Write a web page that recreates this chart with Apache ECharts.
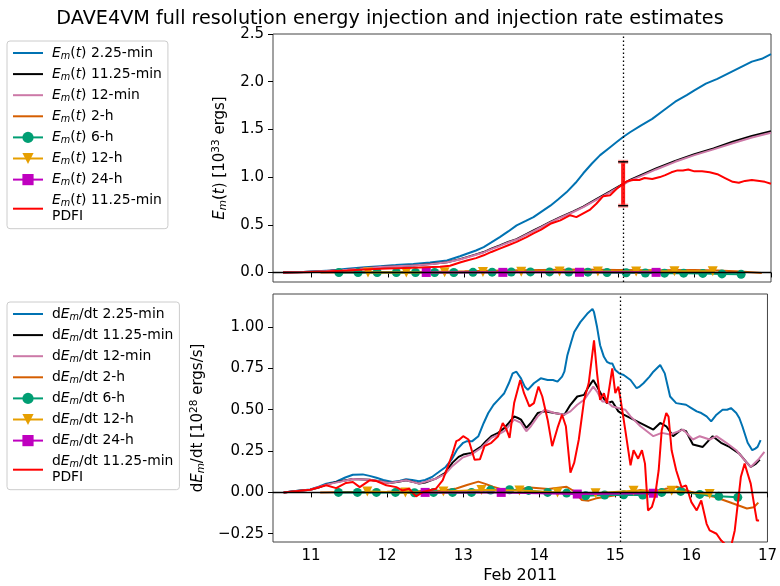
<!DOCTYPE html>
<html><head><meta charset="utf-8">
<script src="https://cdn.jsdelivr.net/npm/echarts@6/dist/echarts.min.js"></script>
<style>html,body{margin:0;padding:0;background:#fff}#c{width:780px;height:586px}</style>
</head><body><div id="c"></div>
<script>
// ---------- axes / labels ----------
const dayTicks = [11, 12, 13, 14, 15, 16, 17];
const topYTicks = [0, 0.5, 1.0, 1.5, 2.0, 2.5];
const botYTicks = [-0.25, 0, 0.25, 0.5, 0.75, 1.0];
const resLabels = ['2.25-min', '11.25-min', '12-min', '2-h', '6-h', '12-h', '24-h', '11.25-min PDFI'];
const flareDay = 15.07;
const errBar = [15.07, 0.93, 0.70, 1.16]; // x, center, low, high

// ---------- E_m(t) [1e33 ergs] ----------
const E_225 = [[10.63,0],[10.9,0.006],[11.25,0.02],[11.47,0.04],[11.7,0.055],[11.9,0.066],[12.1,0.077],[12.33,0.09],[12.55,0.105],[12.77,0.126],[12.94,0.17],[13.03,0.196],[13.15,0.23],[13.25,0.266],[13.35,0.315],[13.46,0.371],[13.57,0.43],[13.68,0.494],[13.8,0.54],[13.9,0.58],[14.0,0.635],[14.12,0.70],[14.22,0.765],[14.33,0.84],[14.45,0.94],[14.55,1.04],[14.66,1.14],[14.77,1.23],[14.88,1.30],[14.99,1.37],[15.07,1.42],[15.16,1.47],[15.3,1.54],[15.45,1.61],[15.6,1.70],[15.75,1.79],[15.9,1.86],[16.0,1.91],[16.15,1.98],[16.3,2.03],[16.45,2.09],[16.6,2.15],[16.75,2.21],[16.88,2.24],[17.0,2.29]];
const E_1125 = [[10.63,0],[10.9,0.004],[11.2,0.015],[11.47,0.028],[11.7,0.043],[11.9,0.056],[12.1,0.064],[12.33,0.073],[12.55,0.088],[12.77,0.108],[12.94,0.14],[13.03,0.161],[13.15,0.19],[13.25,0.214],[13.35,0.25],[13.46,0.284],[13.57,0.32],[13.68,0.35],[13.8,0.40],[13.9,0.44],[14.0,0.48],[14.12,0.53],[14.25,0.58],[14.42,0.64],[14.55,0.69],[14.72,0.77],[14.9,0.85],[15.07,0.93],[15.16,0.97],[15.3,1.02],[15.5,1.09],[15.75,1.17],[16.0,1.24],[16.25,1.30],[16.5,1.37],[16.75,1.43],[17.0,1.48]];
const E_12 = [[10.63,0],[10.9,0.004],[11.2,0.015],[11.47,0.028],[11.7,0.043],[11.9,0.056],[12.1,0.064],[12.33,0.073],[12.55,0.087],[12.77,0.106],[12.94,0.136],[13.03,0.157],[13.15,0.186],[13.25,0.21],[13.35,0.245],[13.46,0.278],[13.57,0.314],[13.68,0.345],[13.8,0.394],[13.9,0.434],[14.0,0.474],[14.12,0.524],[14.25,0.574],[14.42,0.634],[14.55,0.684],[14.72,0.762],[14.9,0.842],[15.07,0.922],[15.16,0.962],[15.3,1.01],[15.5,1.08],[15.75,1.16],[16.0,1.23],[16.25,1.29],[16.5,1.355],[16.75,1.415],[17.0,1.465]];
const E_2h = [[11.12,0],[11.5,0.001],[12.0,0.003],[12.5,0.006],[13.0,0.012],[13.5,0.02],[14.0,0.026],[14.5,0.03],[15.0,0.027],[15.5,0.024],[16.0,0.025],[16.3,0.02],[16.6,0.01],[16.88,-0.005]];
const sixHourT = [11.36,11.61,11.86,12.11,12.36,12.61,12.86,13.11,13.36,13.61,13.86,14.11,14.36,14.61,14.86,15.11,15.36,15.61,15.86,16.11,16.36,16.61];
const E_6h = [0,0,0,0,0,0,0,0.001,0.003,0.005,0.006,0.006,0.005,0.003,0.0,-0.003,-0.006,-0.007,-0.007,-0.01,-0.015,-0.02];
const twelveHourT = [11.74,12.24,12.74,13.24,13.74,14.24,14.74,15.24,15.74,16.24];
const E_12h = [0,0,0.001,0.004,0.008,0.01,0.01,0.01,0.012,0.012];
const dayT = [12.5,13.5,14.5,15.5];
const E_24h = [0,0.001,0.002,0.001];
const E_pdfi = [[10.63,0],[10.9,0.003],[11.2,0.01],[11.47,0.02],[11.7,0.03],[11.9,0.038],[12.1,0.043],[12.33,0.049],[12.5,0.055],[12.68,0.061],[12.81,0.07],[12.94,0.105],[13.03,0.126],[13.15,0.15],[13.25,0.18],[13.35,0.215],[13.46,0.25],[13.57,0.285],[13.68,0.32],[13.81,0.37],[13.9,0.41],[14.0,0.45],[14.12,0.51],[14.25,0.546],[14.38,0.60],[14.46,0.58],[14.55,0.62],[14.64,0.66],[14.72,0.72],[14.81,0.80],[14.9,0.81],[14.99,0.88],[15.07,0.93],[15.13,0.96],[15.2,0.97],[15.28,0.97],[15.35,0.99],[15.45,0.98],[15.55,1.0],[15.62,1.02],[15.7,1.05],[15.78,1.07],[15.85,1.07],[15.92,1.08],[16.0,1.06],[16.1,1.06],[16.2,1.05],[16.3,1.03],[16.4,0.99],[16.5,0.95],[16.58,0.94],[16.66,0.96],[16.75,0.97],[16.85,0.96],[16.92,0.95],[17.0,0.93]];

// ---------- dE_m/dt [1e28 ergs/s] ----------
const R_225 = [[10.64,0],[10.8,0.008],[10.99,0.018],[11.1,0.035],[11.2,0.053],[11.33,0.065],[11.45,0.09],[11.55,0.107],[11.68,0.109],[11.77,0.1],[11.86,0.089],[11.95,0.075],[12.07,0.063],[12.17,0.07],[12.25,0.079],[12.33,0.075],[12.42,0.067],[12.5,0.075],[12.59,0.093],[12.67,0.12],[12.77,0.154],[12.85,0.2],[12.92,0.26],[13.0,0.30],[13.05,0.31],[13.12,0.31],[13.2,0.34],[13.27,0.42],[13.33,0.48],[13.4,0.53],[13.46,0.56],[13.54,0.60],[13.6,0.66],[13.65,0.72],[13.7,0.73],[13.76,0.69],[13.81,0.64],[13.85,0.62],[13.93,0.66],[14.02,0.69],[14.11,0.68],[14.18,0.68],[14.24,0.67],[14.3,0.70],[14.33,0.73],[14.37,0.83],[14.42,0.91],[14.46,0.97],[14.54,1.03],[14.63,1.08],[14.70,1.11],[14.72,1.09],[14.76,1.0],[14.8,0.89],[14.85,0.82],[14.89,0.79],[14.93,0.78],[14.96,0.78],[15.0,0.74],[15.05,0.72],[15.11,0.71],[15.2,0.68],[15.28,0.63],[15.32,0.64],[15.37,0.66],[15.45,0.70],[15.5,0.73],[15.59,0.77],[15.65,0.72],[15.69,0.64],[15.72,0.58],[15.8,0.54],[15.93,0.53],[16.0,0.51],[16.07,0.49],[16.13,0.48],[16.2,0.46],[16.26,0.43],[16.33,0.47],[16.41,0.50],[16.47,0.50],[16.52,0.51],[16.59,0.48],[16.63,0.45],[16.67,0.40],[16.74,0.30],[16.8,0.255],[16.84,0.265],[16.87,0.275],[16.91,0.316]];
const R_1125 = [[10.64,0],[10.8,0.008],[10.99,0.016],[11.1,0.03],[11.2,0.047],[11.35,0.065],[11.55,0.081],[11.77,0.077],[11.9,0.068],[12.03,0.057],[12.15,0.065],[12.25,0.073],[12.33,0.065],[12.42,0.053],[12.5,0.06],[12.64,0.083],[12.76,0.117],[12.86,0.18],[12.94,0.215],[13.0,0.229],[13.11,0.239],[13.24,0.279],[13.3,0.31],[13.37,0.34],[13.46,0.36],[13.54,0.39],[13.6,0.42],[13.67,0.46],[13.72,0.45],[13.76,0.44],[13.83,0.39],[13.89,0.42],[13.98,0.48],[14.07,0.49],[14.2,0.48],[14.33,0.47],[14.41,0.53],[14.5,0.58],[14.59,0.59],[14.65,0.64],[14.71,0.68],[14.76,0.64],[14.83,0.58],[14.89,0.54],[14.96,0.55],[15.04,0.49],[15.11,0.47],[15.24,0.44],[15.37,0.41],[15.5,0.38],[15.59,0.42],[15.67,0.40],[15.76,0.34],[15.87,0.38],[15.93,0.37],[16.02,0.29],[16.15,0.275],[16.28,0.34],[16.39,0.30],[16.5,0.275],[16.63,0.235],[16.72,0.184],[16.78,0.154],[16.85,0.174],[16.9,0.198]];
const R_12 = [[10.64,0],[10.99,0.016],[11.2,0.047],[11.55,0.081],[11.77,0.077],[12.03,0.057],[12.25,0.073],[12.42,0.053],[12.64,0.083],[12.76,0.11],[12.86,0.16],[12.99,0.21],[13.11,0.23],[13.24,0.27],[13.37,0.33],[13.46,0.35],[13.54,0.37],[13.67,0.44],[13.76,0.42],[13.83,0.37],[13.89,0.40],[13.98,0.46],[14.07,0.50],[14.2,0.48],[14.33,0.47],[14.41,0.49],[14.5,0.53],[14.59,0.56],[14.65,0.60],[14.71,0.64],[14.76,0.61],[14.83,0.55],[14.89,0.55],[14.96,0.52],[15.04,0.51],[15.13,0.50],[15.2,0.46],[15.33,0.40],[15.5,0.34],[15.61,0.36],[15.72,0.35],[15.89,0.38],[16.02,0.32],[16.11,0.34],[16.24,0.32],[16.33,0.34],[16.46,0.30],[16.59,0.255],[16.72,0.184],[16.78,0.154],[16.89,0.204],[16.96,0.245]];
const R_2h = [[11.12,0],[11.5,0.002],[12.0,0.004],[12.43,0.008],[12.75,0.012],[12.91,0.024],[13.05,0.045],[13.2,0.065],[13.3,0.05],[13.39,0.034],[13.5,0.02],[13.64,0.012],[13.75,0.02],[13.88,0.03],[14.0,0.025],[14.12,0.02],[14.25,0.028],[14.36,0.034],[14.45,0.01],[14.56,-0.046],[14.65,-0.05],[14.75,-0.036],[14.94,-0.022],[15.14,-0.006],[15.33,0.014],[15.52,0.004],[15.65,0.02],[15.81,0.034],[15.95,0.01],[16.06,-0.006],[16.3,-0.026],[16.54,-0.066],[16.73,-0.097],[16.82,-0.09],[16.88,-0.062]];
const R_6h = [0,0,0,0,-0.002,0,0,0,0.014,0.016,0.012,0.0,-0.004,-0.02,-0.016,-0.014,-0.016,0.0,0.006,-0.012,-0.024,-0.03];
const R_12h = [0.005,0.0,0.005,0.015,0.012,0.0,-0.005,0.01,0.01,-0.01];
const R_24h = [0.0,0.0,-0.01,-0.005];
const R_pdfi = [[10.64,0],[10.99,0.016],[11.2,0.043],[11.33,0.026],[11.46,0.057],[11.55,0.063],[11.64,0.032],[11.77,0.073],[11.86,0.069],[11.99,0.043],[12.12,0.032],[12.2,0.012],[12.29,0.022],[12.38,-0.024],[12.47,0.002],[12.64,0.022],[12.73,0.073],[12.8,0.158],[12.86,0.235],[12.91,0.31],[12.94,0.316],[13.0,0.34],[13.07,0.32],[13.15,0.198],[13.22,0.20],[13.28,0.28],[13.37,0.30],[13.46,0.34],[13.52,0.42],[13.57,0.38],[13.61,0.33],[13.67,0.54],[13.75,0.68],[13.8,0.60],[13.87,0.52],[13.93,0.54],[13.99,0.64],[14.04,0.58],[14.11,0.44],[14.17,0.28],[14.24,0.39],[14.3,0.47],[14.35,0.40],[14.41,0.12],[14.46,0.18],[14.52,0.32],[14.59,0.56],[14.65,0.66],[14.72,0.92],[14.76,0.72],[14.8,0.56],[14.85,0.60],[14.89,0.54],[14.93,0.66],[14.96,0.75],[15.0,0.60],[15.04,0.64],[15.07,0.56],[15.13,0.38],[15.2,0.164],[15.24,0.255],[15.3,0.204],[15.35,0.255],[15.39,0.174],[15.43,-0.109],[15.48,-0.089],[15.52,-0.028],[15.57,0.134],[15.61,0.376],[15.67,0.48],[15.7,0.457],[15.74,0.255],[15.8,0.134],[15.87,0.032],[15.93,0.042],[16.0,-0.059],[16.07,-0.109],[16.13,-0.049],[16.2,-0.19],[16.24,-0.23],[16.33,-0.25],[16.39,-0.29],[16.46,-0.32],[16.52,-0.33],[16.57,-0.23],[16.61,-0.069],[16.65,0.093],[16.7,0.174],[16.74,0.113],[16.78,0.053],[16.83,-0.089],[16.86,-0.17],[16.89,-0.17]];

// ---------- styling ----------
const FONT = 'DejaVu Sans';
const TICKFS = 15, LABFS = 15, LEGFS = 13.9;
const COL = ['#0072B2', '#000000', '#CC79A7', '#D55E00', '#009E73', '#E69F00', '#BF00BF', '#FF0000'];
const SYM = [null, null, null, null, 'circle', 'triangle', 'rect', null];
const SYMSIZE = [0, 0, 0, 0, 9, 10, 9, 0];
const zip = (t, v) => t.map((x, i) => [x, v[i]]);
const topNames = resLabels.map(l => 'Em(t) ' + l);
const botNames = resLabels.map(l => 'dEm/dt ' + l);

function legendFmt(name) {
  let prefix, rest;
  if (name.startsWith('dEm/dt ')) { prefix = '{n|d}{i|E}{s|m}{n|/dt '; rest = name.slice(7); }
  else { prefix = '{i|E}{s|m}{n|(}{i|t}{n|) '; rest = name.slice(6); }
  if (rest.endsWith(' PDFI')) return prefix + rest.replace(' PDFI', '') + '}\n{n|PDFI}';
  return prefix + rest + '}';
}
function mkRich(fs, lh) {
  const sfs = fs * 0.7;
  return {
    n: {fontFamily: FONT, fontSize: fs, color: '#000', lineHeight: lh},
    i: {fontFamily: FONT, fontSize: fs, color: '#000', lineHeight: lh, fontStyle: 'italic'},
    s: {fontFamily: FONT, fontSize: sfs, color: '#000', lineHeight: sfs + 1, fontStyle: 'italic', verticalAlign: 'bottom'},
    p: {fontFamily: FONT, fontSize: sfs, color: '#000', lineHeight: sfs + 1, verticalAlign: 'top'}
  };
}

function mkSeries(names, datas, gi) {
  return datas.map((d, k) => ({
    type: 'line', name: names[k], data: d, xAxisIndex: gi, yAxisIndex: gi,
    symbol: SYM[k] || 'none', symbolSize: SYMSIZE[k], symbolRotate: k === 5 ? 180 : 0,
    showSymbol: !!SYM[k], showAllSymbol: true,
    itemStyle: {color: COL[k], borderWidth: 0},
    lineStyle: {color: COL[k], width: 2},
    z: 2 + k * 0.1, animation: false, silent: true
  }));
}
const refLines = gi => ({
  type: 'line', data: [], xAxisIndex: gi, yAxisIndex: gi, z: 10, silent: true, animation: false,
  markLine: {
    symbol: ['none', 'none'], silent: true, animation: false, label: {show: false},
    data: [
      {xAxis: flareDay, lineStyle: {color: '#000', width: 1.3, type: [1.5, 2.5]}},
      {yAxis: 0, lineStyle: {color: '#000', width: 1.3, type: 'solid'}}
    ]
  }
});

const topData = [E_225, E_1125, E_12, E_2h, zip(sixHourT, E_6h), zip(twelveHourT, E_12h), zip(dayT, E_24h), E_pdfi];
const botData = [R_225, R_1125, R_12, R_2h, zip(sixHourT, R_6h), zip(twelveHourT, R_12h), zip(dayT, R_24h), R_pdfi];

const xAxisBase = (gi, showLabels) => ({
  type: 'value', gridIndex: gi, min: 10.5, max: 17,
  axisLine: {show: false}, splitLine: {show: false},
  axisTick: {show: true, inside: false, length: 5, customValues: dayTicks, lineStyle: {color: '#000', width: 1}},
  axisLabel: {show: showLabels, customValues: dayTicks, fontFamily: FONT, fontSize: TICKFS, color: '#000', margin: 7},
  name: showLabels ? 'Feb 2011' : '', nameLocation: 'middle', nameGap: 26,
  nameTextStyle: {fontFamily: FONT, fontSize: 16, color: '#000'}
});
const legendBase = (names, top) => ({
  data: names.map((n, k) => SYM[k] ? {name: n} : {name: n, itemStyle: {color: 'rgba(0,0,0,0)', borderWidth: 0}}),
  orient: 'vertical', left: 7, top: top, itemWidth: 30, itemHeight: 14, itemGap: 5.1,
  padding: [4, 6, 4, 5], backgroundColor: '#fff', borderColor: '#cccccc', borderWidth: 1, borderRadius: 3,
  formatter: legendFmt, selectedMode: false,
  textStyle: {padding: [0, 0, 0, 4], lineHeight: 16, rich: mkRich(LEGFS, 16)}
});

const option = {
  animation: false,
  title: {text: 'DAVE4VM full resolution energy injection and injection rate estimates', left: 'center', top: 5,
    textStyle: {fontFamily: FONT, fontSize: 19.2, fontWeight: 'normal', color: '#000'}},
  legend: [legendBase(topNames, 41), legendBase(botNames, 302)],
  grid: [
    {left: 273, right: 9, top: 34, height: 248, show: true, borderColor: '#444', borderWidth: 1, backgroundColor: 'transparent'},
    {left: 273, right: 9, top: 294, height: 248, show: true, borderColor: '#444', borderWidth: 1, backgroundColor: 'transparent'}
  ],
  xAxis: [xAxisBase(0, false), xAxisBase(1, true)],
  yAxis: [
    {type: 'value', gridIndex: 0, min: -0.1, max: 2.5, axisLine: {show: false}, splitLine: {show: false},
      axisTick: {show: true, length: 5, customValues: topYTicks, lineStyle: {color: '#000'}},
      axisLabel: {customValues: topYTicks, formatter: v => v.toFixed(1), fontFamily: FONT, fontSize: TICKFS, color: '#000', margin: 9},
      name: '{i|E}{s|m}{n|(}{i|t}{n|) [10}{p|33}{n| ergs]}', nameLocation: 'middle', nameGap: 26,
      nameTextStyle: {rich: mkRich(LABFS, 18)}},
    {type: 'value', gridIndex: 1, min: -0.3, max: 1.2, axisLine: {show: false}, splitLine: {show: false},
      axisTick: {show: true, length: 5, customValues: botYTicks, lineStyle: {color: '#000'}},
      axisLabel: {customValues: botYTicks, formatter: v => (v < 0 ? '\u2212' : '') + Math.abs(v).toFixed(2), fontFamily: FONT, fontSize: TICKFS, color: '#000', margin: 9},
      name: '{n|d}{i|E}{s|m}{n|/dt [10}{p|28}{n| ergs/s]}', nameLocation: 'middle', nameGap: 46,
      nameTextStyle: {rich: mkRich(LABFS, 18)}}
  ],
  series: [].concat(
    mkSeries(topNames, topData, 0),
    [{
      type: 'custom', xAxisIndex: 0, yAxisIndex: 0, data: [errBar], encode: {x: 0, y: [1, 2, 3]}, z: 5, silent: true, animation: false,
      renderItem: function (params, api) {
        const lo = api.coord([api.value(0), api.value(2)]);
        const hi = api.coord([api.value(0), api.value(3)]);
        const cw = 5;
        const cap = (p, c, w) => ({type: 'line', shape: {x1: p[0] - cw, y1: p[1], x2: p[0] + cw, y2: p[1]}, style: {stroke: c, lineWidth: w}});
        return {type: 'group', children: [
          {type: 'line', shape: {x1: lo[0], y1: lo[1], x2: hi[0], y2: hi[1]}, style: {stroke: 'rgba(255,0,0,0.9)', lineWidth: 4}},
          cap(lo, 'rgba(255,80,80,0.6)', 4), cap(hi, 'rgba(255,80,80,0.6)', 4),
          cap(lo, '#000', 1.5), cap(hi, '#000', 1.5)
        ]};
      }
    }],
    [refLines(0)],
    mkSeries(botNames, botData, 1),
    [refLines(1)]
  )
};
const chart = echarts.init(document.getElementById('c'), null, {renderer: 'canvas'});
chart.setOption(option);
</script></body></html>
